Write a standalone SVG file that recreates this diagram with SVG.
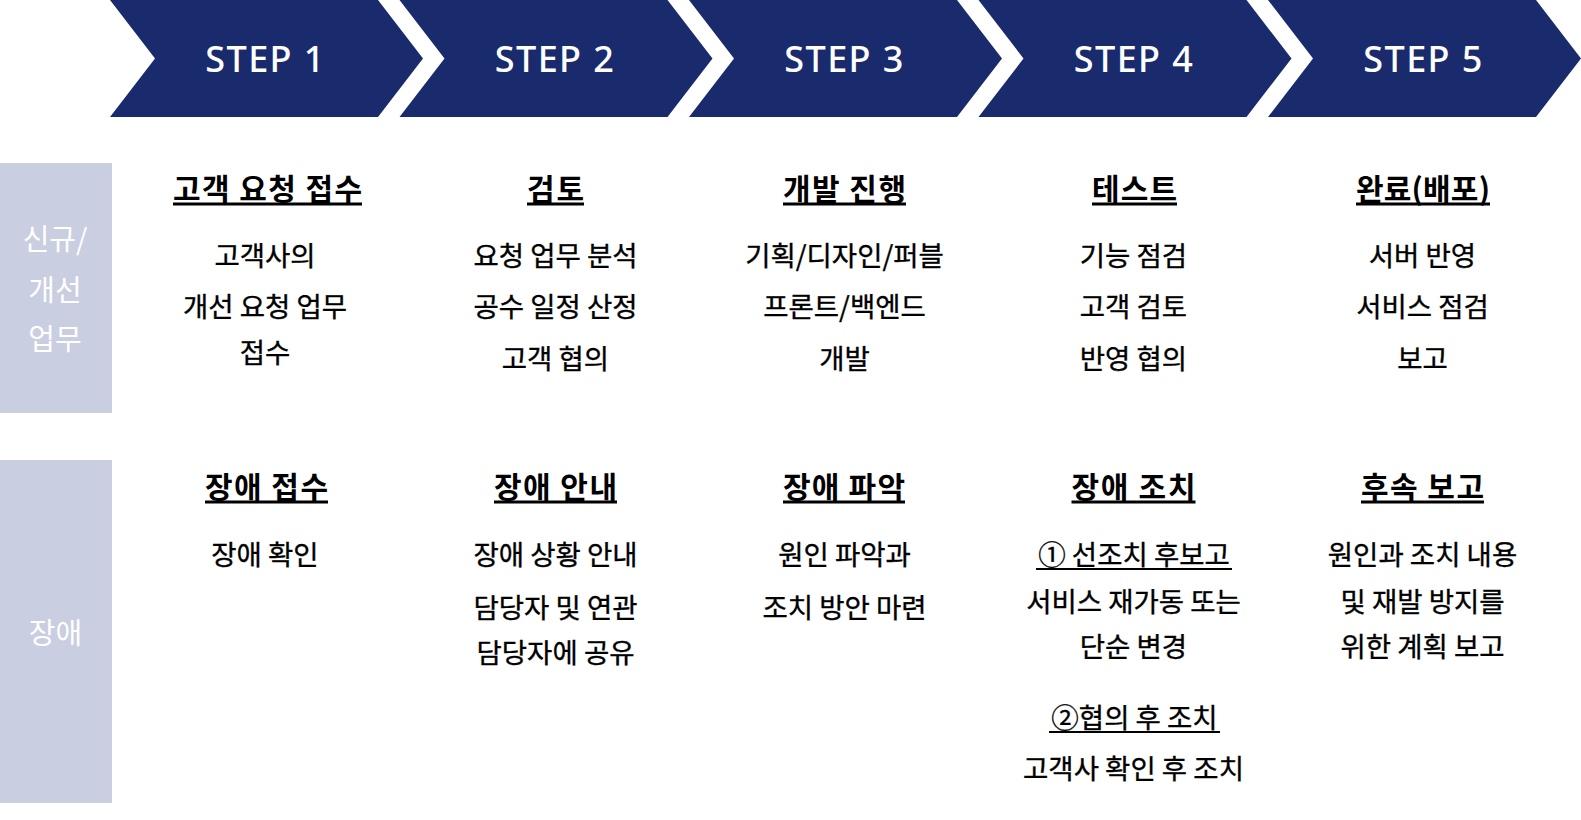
<svg xmlns="http://www.w3.org/2000/svg" width="1581" height="820" viewBox="0 0 1581 820">
<style>
.chev{fill:#1a2b6d}
.step{font-family:"Noto Sans","Open Sans",sans-serif;font-size:36px;font-weight:500;fill:#ffffff;text-anchor:middle;letter-spacing:1.4px}
.lbl{fill:#c9cee0}
.lt{font-family:"Noto Sans CJK KR","Noto Sans",sans-serif;font-size:29px;fill:#ffffff;text-anchor:middle}
.h{font-family:"Noto Sans CJK KR","Noto Sans",sans-serif;font-size:30px;font-weight:bold;fill:#000000;text-anchor:middle}
.b{font-family:"Noto Sans CJK KR","Noto Sans",sans-serif;font-size:27.5px;fill:#000000;stroke:#000000;stroke-width:0.35px;text-anchor:middle}
.ul{fill:#000000}
</style>
<rect width="1581" height="820" fill="#ffffff"/>
<g id="chevrons">
<g id="step1"><polygon class="chev" points="110,0 378,0 423,58.5 378,117 110,117 155,58.5"/><text class="step" x="265.5" y="72">STEP 1</text></g>
<g id="step2"><polygon class="chev" points="399.5,0 667.5,0 712.5,58.5 667.5,117 399.5,117 444.5,58.5"/><text class="step" x="555" y="72">STEP 2</text></g>
<g id="step3"><polygon class="chev" points="689,0 957,0 1002,58.5 957,117 689,117 734,58.5"/><text class="step" x="844.5" y="72">STEP 3</text></g>
<g id="step4"><polygon class="chev" points="978.5,0 1246.5,0 1291.5,58.5 1246.5,117 978.5,117 1023.5,58.5"/><text class="step" x="1134" y="72">STEP 4</text></g>
<g id="step5"><polygon class="chev" points="1268,0 1536,0 1581,58.5 1536,117 1268,117 1313,58.5"/><text class="step" x="1423.5" y="72">STEP 5</text></g>
</g>
<g id="label-new">
<rect class="lbl" x="0" y="163" width="112" height="250"/>
<text class="lt" x="55" y="250">신규/</text>
<text class="lt" x="55" y="301">개선</text>
<text class="lt" x="55" y="350">업무</text>
</g>
<g id="label-fault">
<rect class="lbl" x="0" y="460" width="112" height="343"/>
<text class="lt" x="55.5" y="644">장애</text>
</g>
<g id="new-step1">
<text class="h" x="267.5" y="199.5" textLength="189">고객 요청 접수</text>
<rect class="ul" x="173" y="202.5" width="189" height="3"/>
<text class="b" x="265" y="266">고객사의</text>
<text class="b" x="265" y="317">개선 요청 업무</text>
<text class="b" x="265" y="363">접수</text>
</g>
<g id="new-step2">
<text class="h" x="555.5" y="199.5" textLength="57">검토</text>
<rect class="ul" x="527" y="202.5" width="57" height="3"/>
<text class="b" x="555.5" y="266">요청 업무 분석</text>
<text class="b" x="555.5" y="317">공수 일정 산정</text>
<text class="b" x="555.5" y="369">고객 협의</text>
</g>
<g id="new-step3">
<text class="h" x="844.5" y="199.5" textLength="123">개발 진행</text>
<rect class="ul" x="783" y="202.5" width="123" height="3"/>
<text class="b" x="844.5" y="266">기획/디자인/퍼블</text>
<text class="b" x="844.5" y="317">프론트/백엔드</text>
<text class="b" x="844.5" y="369">개발</text>
</g>
<g id="new-step4">
<text class="h" x="1134.5" y="199.5" textLength="85">테스트</text>
<rect class="ul" x="1092" y="202.5" width="85" height="3"/>
<text class="b" x="1133.5" y="266">기능 점검</text>
<text class="b" x="1133.5" y="317">고객 검토</text>
<text class="b" x="1133.5" y="369">반영 협의</text>
</g>
<g id="new-step5">
<text class="h" x="1423" y="199.5" textLength="134">완료(배포)</text>
<rect class="ul" x="1356" y="202.5" width="134" height="3"/>
<text class="b" x="1422.5" y="266">서버 반영</text>
<text class="b" x="1422.5" y="317">서비스 점검</text>
<text class="b" x="1422.5" y="369">보고</text>
</g>
<g id="fault-step1">
<text class="h" x="266.5" y="497.5" textLength="123">장애 접수</text>
<rect class="ul" x="205" y="500.5" width="123" height="3"/>
<text class="b" x="265" y="565">장애 확인</text>
</g>
<g id="fault-step2">
<text class="h" x="555.5" y="497.5" textLength="123">장애 안내</text>
<rect class="ul" x="494" y="500.5" width="123" height="3"/>
<text class="b" x="555.5" y="565">장애 상황 안내</text>
<text class="b" x="555.5" y="618">담당자 및 연관</text>
<text class="b" x="555.5" y="663">담당자에 공유</text>
</g>
<g id="fault-step3">
<text class="h" x="844" y="497.5" textLength="122">장애 파악</text>
<rect class="ul" x="783" y="500.5" width="122" height="3"/>
<text class="b" x="844.5" y="565">원인 파악과</text>
<text class="b" x="844.5" y="618">조치 방안 마련</text>
</g>
<g id="fault-step4">
<text class="h" x="1133.5" y="497.5" textLength="124">장애 조치</text>
<rect class="ul" x="1071.5" y="500.5" width="124" height="3"/>
<text class="b" x="1134" y="565">① 선조치 후보고</text>
<rect class="ul" x="1036" y="568" width="196" height="2"/>
<text class="b" x="1133.5" y="612">서비스 재가동 또는</text>
<text class="b" x="1133.5" y="657">단순 변경</text>
<text class="b" x="1134.5" y="728">②협의 후 조치</text>
<rect class="ul" x="1049" y="731" width="171" height="2"/>
<text class="b" x="1133.5" y="779">고객사 확인 후 조치</text>
</g>
<g id="fault-step5">
<text class="h" x="1422.5" y="497.5" textLength="123">후속 보고</text>
<rect class="ul" x="1361" y="500.5" width="123" height="3"/>
<text class="b" x="1422.5" y="565">원인과 조치 내용</text>
<text class="b" x="1422.5" y="612">및 재발 방지를</text>
<text class="b" x="1422.5" y="657">위한 계획 보고</text>
</g>
</svg>
